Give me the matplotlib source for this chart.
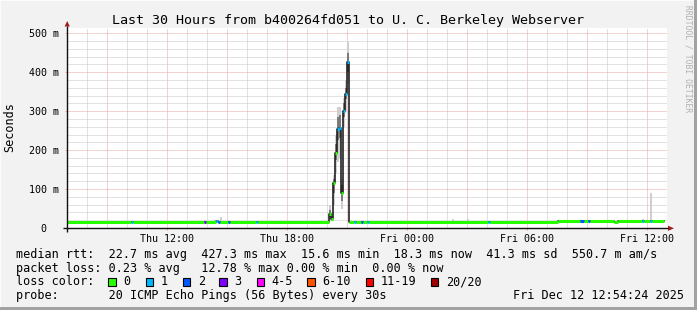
import matplotlib
matplotlib.use("Agg")
import matplotlib.pyplot as plt
from matplotlib.patches import Rectangle, Polygon

# ---------------- data ----------------
# hours since Thu 07:00 at which the median step starts
step_start_h = [0.0, 3.2, 3.3, 6.85, 6.95, 7.45, 7.55, 7.65, 8.05, 8.15, 9.45, 9.55,
                13.1, 13.2, 13.3, 13.4, 13.5, 13.6, 13.7, 13.8, 13.9, 14.0,
                14.1, 14.35, 14.45, 14.7, 14.8, 15.0, 15.1, 21.05, 21.15,
                24.55, 25.65, 25.85, 26.05, 26.15, 27.35, 27.55, 28.75, 28.85,
                29.15, 29.25]
step_median_ms = [16, 16, 16, 16, 16, 17, 16, 16, 16, 16, 16, 16,
                  36, 24, 115, 193, 255, 258, 90, 301, 344, 426,
                  16, 16, 16, 16, 16, 16, 16, 16, 16,
                  18, 18, 18, 18, 18, 15, 18, 18, 18,
                  18, 18]
step_loss = [0, 1, 0, 3, 0, 1, 2, 0, 2, 0, 1, 0,
             0, 0, 0, 0, 1, 1, 0, 1, 1, 1,
             0, 1, 0, 2, 0, 1, 0, 1, 0,
             0, 2, 0, 2, 0, 0, 0, 1, 0,
             1, 0]
series_end_h = 29.85

# smoke (ping spread) for steps where it is visible
smoke_start_h = [7.65, 13.1, 13.2, 13.3, 13.4, 13.5, 13.6, 13.7, 13.8, 13.9, 14.0,
                 19.25, 20.0, 28.75, 29.15]
smoke_lo_ms = [14, 20, 18, 60, 140, 170, 180, 50, 260, 300, 370, 14, 14, 14, 14]
smoke_q1_ms = [16, 28, 20, 90, 175, 225, 230, 70, 285, 330, 400, 16, 16, 16, 17]
smoke_q3_ms = [18, 45, 30, 125, 215, 285, 290, 110, 320, 360, 450, 18, 18, 20, 19]
smoke_hi_ms = [28, 60, 40, 135, 240, 310, 310, 125, 335, 380, 478, 22, 22, 24, 90]
smoke_step_h = 0.1

y_ticks_ms = [0, 100, 200, 300, 400, 500]
y_tick_labels = ["0  ", "100 m", "200 m", "300 m", "400 m", "500 m"]
x_ticks_h = [5, 11, 17, 23, 29]
x_tick_labels = ["Thu 12:00", "Thu 18:00", "Fri 00:00", "Fri 06:00", "Fri 12:00"]

loss_bins = [0, 1, 2, 3, 5, 10, 19, 20]
loss_labels = ["0", "1", "2", "3", "4-5", "6-10", "11-19", "20/20"]
loss_colors = ["#26ff00", "#00b8ff", "#0059ff", "#7e00ff", "#ff00ff", "#ff5500", "#ff0000", "#a10000"]

title = "Last 30 Hours from b400264fd051 to U. C. Berkeley Webserver"
stat_lines = [
    "median rtt:  22.7 ms avg  427.3 ms max  15.6 ms min  18.3 ms now  41.3 ms sd  550.7 m am/s",
    "packet loss: 0.23 % avg   12.78 % max 0.00 % min  0.00 % now",
]
probe_line = "probe:       20 ICMP Echo Pings (56 Bytes) every 30s"
stamp = "Fri Dec 12 12:54:24 2025"

# ---------------- layout ----------------
W, H = 697, 310
MONO = "DejaVu Sans Mono"
BG = "#f2f2f2"
plt.rcParams["font.family"] = MONO

fig = plt.figure(figsize=(W / 100, H / 100), dpi=100, facecolor=BG)
PL, PR, PT, PB = 67, 667, 28, 228
ax = fig.add_axes([PL / W, 1 - PB / H, (PR - PL) / W, (PB - PT) / H])
ax.set_facecolor("white")
ax.set_xlim(0, 30)
ymax = (PB - PT) / (PB - 33.3) * 500
ax.set_ylim(0, ymax)
for s in ax.spines.values():
    s.set_visible(False)

# grid
dot = (0, (1, 1))
MINOR, MAJOR = "#c6c6c6", "#e8a6a6"
for hh in range(1, 30):
    ax.axvline(hh, color=MAJOR if hh % 3 == 2 else MINOR, lw=0.72, ls=dot, zorder=0, snap=True)
for v in range(20, int(ymax), 20):
    ax.axhline(v, color=MAJOR if v % 100 == 0 else MINOR, lw=0.72, ls=dot, zorder=0, snap=True)

# smoke
hi_minus_lo = [h - l for h, l in zip(smoke_hi_ms, smoke_lo_ms)]
q_span = [h - l for h, l in zip(smoke_q3_ms, smoke_q1_ms)]
ax.bar(smoke_start_h, hi_minus_lo, bottom=smoke_lo_ms, width=smoke_step_h, align="edge",
       color="#cfcfcf", lw=0, zorder=1)
ax.bar(smoke_start_h, q_span, bottom=smoke_q1_ms, width=smoke_step_h, align="edge",
       color="#7a7a7a", lw=0, zorder=1)

# median line
t_ext = step_start_h + [series_end_h]
v_ext = step_median_ms + [step_median_ms[-1]]
ax.plot(t_ext, v_ext, drawstyle="steps-post", color="#111111", lw=1.1, zorder=2)


def loss_color(n):
    for b, c in zip(loss_bins, loss_colors):
        if n <= b:
            return c
    return loss_colors[-1]


ax.hlines(step_median_ms, step_start_h, t_ext[1:], colors=[loss_color(n) for n in step_loss],
          lw=2.2, zorder=3, capstyle="butt")

# ticks
ax.set_yticks(y_ticks_ms)
ax.set_yticklabels(y_tick_labels)
ax.set_xticks(x_ticks_h)
ax.set_xticklabels(x_tick_labels)
ax.tick_params(axis="y", length=1.5, width=0.72, color=MAJOR, pad=4.3, labelsize=7.2)
ax.tick_params(axis="x", length=1.5, width=0.72, color=MAJOR, pad=3.0, labelsize=7.2)

# overlay in pixel coordinates
ov = fig.add_axes([0, 0, 1, 1])
ov.set_xlim(0, W)
ov.set_ylim(H, 0)
ov.axis("off")
ov.patch.set_alpha(0)

# border
ov.add_patch(Rectangle((0, 0), W, 1, color="#fbfbfb", lw=0))
ov.add_patch(Rectangle((0, 0), 1, H, color="#fbfbfb", lw=0))
ov.add_patch(Rectangle((W - 2.7, 0), 2.7, H, color="#a2a2a2", lw=0))
ov.add_patch(Rectangle((0, H - 2.7), W, 2.7, color="#a2a2a2", lw=0))

# axes lines + arrows
ov.plot([63, 668], [228.3, 228.3], color="#111111", lw=1.0, solid_capstyle="butt")
ov.plot([67.2, 67.2], [232, 26], color="#111111", lw=1.0, solid_capstyle="butt")
ov.add_patch(Polygon([(668, 225.7), (668, 230.9), (674, 228.3)], closed=True, color="#a01c1c", lw=0))
ov.add_patch(Polygon([(64.6, 26.5), (69.8, 26.5), (67.2, 21)], closed=True, color="#a01c1c", lw=0))

# texts
ov.text(348, 24, title, ha="center", va="baseline", fontsize=9.6, family=MONO)
ov.text(10, 127, "Seconds", rotation=90, ha="center", va="center", fontsize=8.45, family=MONO)
ov.text(688, 5, "RRDTOOL / TOBI OETIKER", rotation=270, ha="center", va="top",
        fontsize=5.8, family=MONO, color="#b0b0b0")

bases = [257.8, 271.6, 285.4, 299.2]
for i, line in enumerate(stat_lines):
    ov.text(16, bases[i], line, ha="left", va="baseline", fontsize=8.45, family=MONO)
ov.text(16, bases[2], "loss color:", ha="left", va="baseline", fontsize=8.45, family=MONO)
box_x = [108.3, 145.7, 182.7, 219.3, 256.7, 307.3, 365.7, 430.7]
for bx, lab, col in zip(box_x, loss_labels, loss_colors):
    ov.add_patch(Rectangle((bx, 278.0), 7.7, 7.7, facecolor=col, edgecolor="black", lw=0.8))
    ov.text(bx + 15, bases[2], lab, ha="left", va="baseline", fontsize=8.45, family=MONO)
ov.text(16, bases[3], probe_line, ha="left", va="baseline", fontsize=8.45, family=MONO)
ov.text(513.3, bases[3], stamp, ha="left", va="baseline", fontsize=8.45, family=MONO)

fig.savefig("out.png", dpi=100, facecolor=BG)
